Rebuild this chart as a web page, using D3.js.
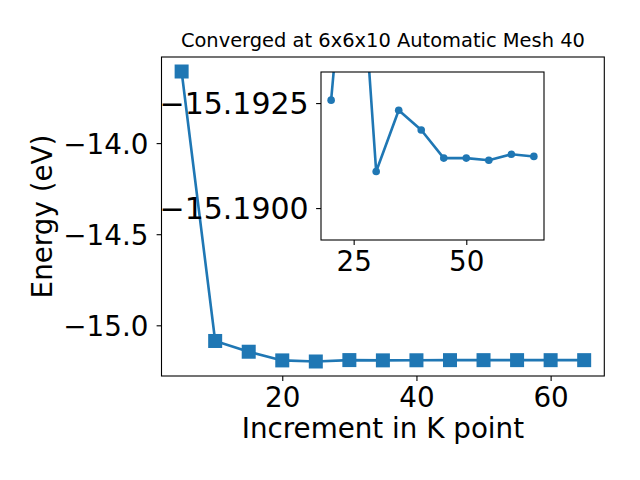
<!DOCTYPE html>
<html>
<head>
<meta charset="utf-8">
<script src="https://cdn.jsdelivr.net/npm/d3@7"></script>
<style>
  body { margin: 0; background: #fff; }
  text { font-family: "DejaVu Sans", sans-serif; fill: #000; }
</style>
</head>
<body>
<svg id="chart" width="640" height="480"></svg>
<script>
// ---- data ----
const kpoints = [5, 10, 15, 20, 25, 30, 35, 40, 45, 50, 55, 60, 65];
const energies = [-13.607, -15.086, -15.145, -15.19257, -15.1986, -15.19087, -15.19233,
                  -15.19186, -15.19119, -15.19119, -15.19114, -15.19128, -15.19123];
const insetK = [20, 25, 30, 35, 40, 45, 50, 55, 60, 65];
const insetE = [-15.19257, -15.1986, -15.19087, -15.19233, -15.19186, -15.19119,
                -15.19119, -15.19114, -15.19128, -15.19123];
const mainXTicks = [20, 40, 60];
const mainYTicks = [-14.0, -14.5, -15.0];
const insetXTicks = [25, 50];
const insetYTicks = [-15.1925, -15.1900];
const titleText = "Converged at 6x6x10 Automatic Mesh 40";
const xLabel = "Increment in K point";
const yLabel = "Energy (eV)";

const color = "#1f77b4";
const svg = d3.select("#chart");
const fmtMinus = s => s.replace("-", "\u2212");

// ---- main axes ----
const M = {l: 161.5, r: 604.3, t: 57, b: 376};
const x = d3.scaleLinear().domain([2, 68]).range([M.l, M.r]);
const y = d3.scaleLinear().domain([-15.2782, -13.5274]).range([M.b, M.t]);

const line = d3.line().x(d => x(d[0])).y(d => y(d[1]));
const mainData = kpoints.map((k, i) => [k, energies[i]]);

svg.append("defs");

svg.append("path").datum(mainData)
  .attr("d", line).attr("fill", "none").attr("stroke", color)
  .attr("stroke-width", 2.6).attr("stroke-linejoin", "round");
const sq = 14;
svg.selectAll("rect.mk").data(mainData).enter().append("rect")
  .attr("class", "mk")
  .attr("x", d => x(d[0]) - sq / 2).attr("y", d => y(d[1]) - sq / 2)
  .attr("width", sq).attr("height", sq).attr("fill", color);

const xAxis = d3.axisBottom(x).tickValues(mainXTicks).tickSize(4.9).tickPadding(4.5)
  .tickFormat(d3.format("d"));
const gx = svg.append("g").attr("transform", `translate(0,${M.b})`).call(xAxis);
const yAxis = d3.axisLeft(y).tickValues(mainYTicks).tickSize(4.9).tickPadding(8.2)
  .tickFormat(d => fmtMinus(d3.format(".1f")(d)));
const gy = svg.append("g").attr("transform", `translate(${M.l},0)`).call(yAxis);
[gx, gy].forEach(g => {
  g.select(".domain").remove();
  g.selectAll("line").attr("stroke", "#000").attr("stroke-width", 1.1);
  g.selectAll("text").attr("font-size", 27.78).attr("font-family", "DejaVu Sans");
});
gx.selectAll("text").attr("dy", null).attr("y", 31);
gy.selectAll("text").attr("dy", null).attr("y", 10);

svg.append("rect").attr("x", M.l).attr("y", M.t).attr("width", M.r - M.l).attr("height", M.b - M.t)
  .attr("fill", "none").attr("stroke", "#000").attr("stroke-width", 1.1);

svg.append("text").attr("x", (M.l + M.r) / 2).attr("y", 47).attr("text-anchor", "middle")
  .attr("font-size", 19.44).text(titleText);
svg.append("text").attr("x", (M.l + M.r) / 2).attr("y", 438).attr("text-anchor", "middle")
  .attr("font-size", 27.78).text(xLabel);
svg.append("text").attr("transform", `translate(52,${(M.t + M.b) / 2}) rotate(-90)`)
  .attr("text-anchor", "middle").attr("font-size", 27.78).text(yLabel);

// ---- inset axes ----
const I = {l: 321, r: 544, t: 72, b: 240};
const xi = d3.scaleLinear().domain([17.75, 67.25]).range([I.l, I.r]);
const yi = d3.scaleLinear().domain([-15.19324, -15.18924]).range([I.t, I.b]);

svg.append("rect").attr("x", I.l).attr("y", I.t).attr("width", I.r - I.l).attr("height", I.b - I.t)
  .attr("fill", "#fff");
svg.select("defs").append("clipPath").attr("id", "insetclip")
  .append("rect").attr("x", I.l).attr("y", I.t).attr("width", I.r - I.l).attr("height", I.b - I.t);

const insetData = insetK.map((k, i) => [k, insetE[i]]);
const gi = svg.append("g").attr("clip-path", "url(#insetclip)");
gi.append("path").datum(insetData)
  .attr("d", d3.line().x(d => xi(d[0])).y(d => yi(d[1])))
  .attr("fill", "none").attr("stroke", color).attr("stroke-width", 2.6)
  .attr("stroke-linejoin", "round");
gi.selectAll("circle").data(insetData).enter().append("circle")
  .attr("cx", d => xi(d[0])).attr("cy", d => yi(d[1])).attr("r", 3.8).attr("fill", color);

const xiAxis = d3.axisBottom(xi).tickValues(insetXTicks).tickSize(4.9).tickPadding(4.5)
  .tickFormat(d3.format("d"));
const gxi = svg.append("g").attr("transform", `translate(0,${I.b})`).call(xiAxis);
const yiAxis = d3.axisLeft(yi).tickValues(insetYTicks).tickSize(4.9).tickPadding(7.4)
  .tickFormat(d => fmtMinus(d3.format(".4f")(d)));
const gyi = svg.append("g").attr("transform", `translate(${I.l},0)`).call(yiAxis);
[gxi, gyi].forEach(g => {
  g.select(".domain").remove();
  g.selectAll("line").attr("stroke", "#000").attr("stroke-width", 1.1);
  g.selectAll("text").attr("font-family", "DejaVu Sans");
});
gxi.selectAll("text").attr("font-size", 27.78).attr("dy", null).attr("y", 31);
gyi.selectAll("text").attr("font-size", 30).attr("dy", null).attr("y", 10.5);

svg.append("rect").attr("x", I.l).attr("y", I.t).attr("width", I.r - I.l).attr("height", I.b - I.t)
  .attr("fill", "none").attr("stroke", "#000").attr("stroke-width", 1.1);
</script>
</body>
</html>
